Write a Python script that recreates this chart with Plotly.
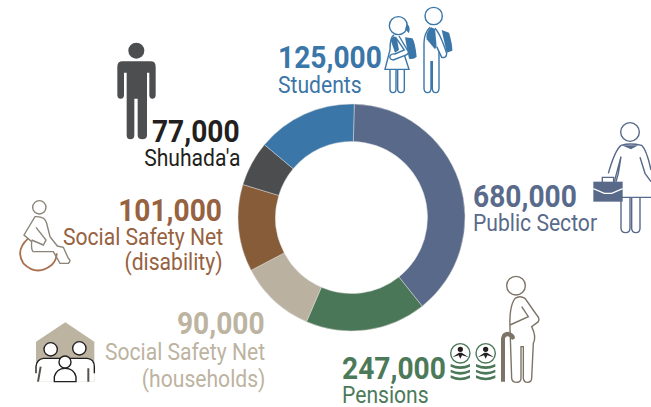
import re
import plotly.graph_objects as go

# The ring in the source is not proportional to the printed figures, so the
# slice shares (read from the ring's angles) are kept apart from the labels.
categories = ["Public Sector", "Pensions", "Social Safety Net (households)",
              "Social Safety Net (disability)", "Shuhada'a", "Students"]
slice_shares = [38.9, 17.2, 10.8, 12.4, 6.4, 14.3]
printed_values = ["680,000", "247,000", "90,000", "101,000", "77,000", "125,000"]
slice_colors = ["#58698a", "#4a7757", "#bbb1a0", "#875c39", "#4c4d4f", "#3a76a8"]

W, H = 651, 407
CX, CY, R = 351.5, 217.5, 113.5
FONT = "Roboto, sans-serif"
CONDENSE = 0.88

fig = go.Figure(go.Pie(
    labels=categories, values=slice_shares, hole=0.67, sort=False,
    direction="clockwise", rotation=1.4,
    marker=dict(colors=slice_colors, line=dict(color="#d8d8d8", width=0.5)),
    textinfo="none", hoverinfo="label+value", showlegend=False,
    domain=dict(x=[(CX - R) / W, (CX + R) / W], y=[1 - (CY + R) / H, 1 - (CY - R) / H]),
))

shapes = []
def scale(ox, oy, d):
    toks = re.findall(r"[A-Za-z]|-?\d+\.?\d*", d)
    out, i = [], 0
    for t in toks:
        if t.isalpha():
            out.append(t)
        else:
            out.append(f"{(ox if i % 2 == 0 else oy) + float(t) / 3:.2f}")
            i += 1
    return " ".join(out)

def path(ox, oy, d, fill="rgba(0,0,0,0)", line="rgba(0,0,0,0)", w=1.4):
    shapes.append(dict(type="path", xref="x", yref="y", path=scale(ox, oy, d),
                       fillcolor=fill, line=dict(color=line, width=w)))

def circle(ox, oy, x, y, r, fill="rgba(0,0,0,0)", line="rgba(0,0,0,0)", w=1.4):
    px, py, pr = ox + x / 3, oy + y / 3, r / 3
    shapes.append(dict(type="circle", xref="x", yref="y", x0=px - pr, x1=px + pr,
                       y0=py - pr, y1=py + pr, fillcolor=fill, line=dict(color=line, width=w)))

# Man (Shuhada'a)
c = "#4d4e50"
circle(0, 0, 409, 152, 24, fill=c)
path(0, 0, "M 352 200 Q 352 184 368 184 L 452 184 Q 467 184 467 200 L 467 285 Q 467 296 457 296 Q 448 296 448 285 L 448 218 L 441 218 L 441 405 Q 441 418 427 418 Q 413 418 413 405 L 413 296 L 403 296 L 403 405 Q 403 418 391 418 Q 380 418 380 405 L 380 218 L 372 218 L 372 285 Q 372 296 362 296 Q 352 296 352 285 Z", fill=c)

# Students
c = "#3a76a8"
circle(325, 0, 220, 77, 27, line=c)
path(325, 0, "M 245 72 Q 258 78 252 100 Q 245 92 240 88 Z", fill=c)
path(325, 0, "M 240 112 L 262 115 Q 270 125 275 170 Q 265 180 252 176 L 245 140 Z", fill=c)
path(325, 0, "M 207 105 Q 195 110 195 150 L 180 208 L 252 208 L 238 165 M 195 208 L 195 268 Q 195 278 204 278 Q 213 278 213 268 L 213 208 M 218 208 L 218 268 Q 218 278 228 278 Q 238 278 238 268 L 238 208", line=c)
path(325, 0, "M 197 120 Q 205 105 215 112 L 222 150 L 210 158 Z", fill=c)
path(325, 0, "M 222 108 L 250 155 Q 252 162 240 166 L 205 180 Q 192 178 195 168 Q 198 160 210 162 L 238 150 L 212 112", fill="#ffffff", line=c)
circle(325, 0, 326, 48, 26, line=c)
path(325, 0, "M 350 90 L 372 98 Q 382 130 382 152 L 365 158 Z", fill=c)
path(325, 0, "M 315 82 Q 297 100 297 130 L 297 265 Q 297 278 308 278 Q 318 278 318 265 L 318 185 L 322 185 L 322 265 Q 322 278 332 278 Q 342 278 342 265 L 342 150", line=c)
path(325, 0, "M 318 82 Q 300 100 305 118 L 330 148 L 340 130 L 332 88 Z", fill=c)
path(325, 0, "M 330 85 Q 345 100 365 160 Q 365 175 350 172 L 335 140", fill="#ffffff", line=c)

# Public sector employee
c = "#58698a"
circle(325, 0, 915, 396, 28, line=c)
path(325, 0, "M 888 436 Q 915 428 950 436 Q 965 450 978 510 M 888 436 Q 870 450 850 520 M 888 470 L 868 545 M 945 472 L 960 520 L 978 545 M 888 470 L 880 520 L 860 592 L 978 592 M 888 592 L 888 685 Q 888 698 902 698 Q 915 698 915 685 L 915 592 M 920 592 L 920 685 Q 920 698 933 698 Q 945 698 945 685 L 945 592", line=c)
path(325, 0, "M 890 436 L 940 436 L 918 448 Z", fill=c)
path(325, 0, "M 832 548 L 832 532 L 866 532 L 866 548", line=c)
path(325, 0, "M 805 545 L 893 545 L 893 605 L 805 605 Z", fill=c)
path(325, 0, "M 805 566 L 838 580 L 860 580 L 893 566", line="#ffffff", w=1.2)

# Wheelchair user
g, b = "#8a8577", "#a9704f"
path(0, 190, "M 85 145 Q 45 180 70 220 Q 110 260 155 225 Q 170 210 170 190", line=b, w=1.8)
circle(0, 190, 118, 52, 20, line=g)
path(0, 190, "M 105 80 Q 135 78 140 100 L 150 140 L 172 168 L 190 172 L 205 205 Q 215 212 205 220 L 180 220 L 160 185 L 100 185 Q 93 180 95 155 L 72 135 Z M 108 112 L 138 150 L 130 165 L 95 150", line=g)

# Household
t, k = "#bdb3a1", "#231f20"
path(0, 190, "M 108 455 L 196 397 L 283 455 L 283 575 L 108 575 Z", fill=t)
path(0, 190, "M 108 575 L 108 530 Q 110 508 130 505 L 262 505 Q 283 508 283 530 L 283 575 Z", fill="#ffffff")
path(0, 190, "M 108 550 L 108 530 Q 110 508 130 505 L 262 505 Q 283 508 283 530 L 283 550", line=k)
circle(0, 190, 152, 478, 20, fill="#ffffff", line=k)
circle(0, 190, 238, 475, 20, fill="#ffffff", line=k)
path(0, 190, "M 122 530 L 114 575 M 265 535 L 265 575", line="#55534e", w=2)
path(0, 190, "M 163 575 L 163 560 Q 170 535 195 535 Q 222 535 228 560 L 228 575 Z", fill="#ffffff", line=k)
circle(0, 190, 195, 516, 18, fill="#ffffff", line=k)

# Pensioner
g, c = "#7c7466", "#4a7757"
circle(325, 250, 573, 107, 28, line=g)
path(325, 250, "M 570 145 Q 552 170 555 235 L 560 385 Q 562 397 575 397 Q 588 397 588 385 L 588 290 L 595 290 L 595 385 Q 597 397 607 397 Q 620 397 620 385 L 625 280 Q 635 260 620 230 L 640 215 Q 645 205 635 195 L 600 145 Q 585 135 570 145 M 555 225 L 610 200 L 590 170", fill="#ffffff", line=g)
path(325, 250, "M 528 395 L 528 265 Q 530 245 550 245 Q 570 250 570 265 Q 560 275 555 262 Q 545 255 540 265 L 540 395 Z", fill=g)
for x in (406, 482):
    circle(325, 250, x, 310, 29, line=c)
    circle(325, 250, x, 298, 8, fill=k)
    path(325, 250, f"M {x - 24} 322 L {x - 4} 308 L {x + 4} 308 L {x + 25} 322 L {x + 5} 316 L {x} 326 L {x - 5} 316 Z", fill=k)
    for y in (342, 359, 376):
        path(325, 250, f"M {x - 29} {y} Q {x} {y + 14} {x + 29} {y} L {x + 29} {y + 8} Q {x} {y + 22} {x - 29} {y + 8} Z", fill=c)

def label(x, y, text, color, size, anchor, bold=False):
    fig.add_annotation(x=x, y=y, xref="x", yref="y", text=f"<b>{text}</b>" if bold else text,
                       showarrow=False, xanchor=anchor, yanchor="middle", borderpad=0, borderwidth=0,
                       font=dict(family=FONT, size=size, color=color))

text_colors = dict(zip(categories, ["#596a8a", "#4c7a59", "#bdb3a1", "#96623f", "#231f20", "#3a76a8"]))
name = categories
label(473, 196, printed_values[0], text_colors[name[0]], 32, "left", True)
label(473, 223, "Public Sector", text_colors[name[0]], 24, "left")
label(342, 368, printed_values[1], text_colors[name[1]], 32, "left", True)
label(342, 395, "Pensions", text_colors[name[1]], 24, "left")
label(265, 323, printed_values[2], text_colors[name[2]], 32, "right", True)
label(265, 352, "Social Safety Net", text_colors[name[2]], 24, "right")
label(265, 379, "(households)", text_colors[name[2]], 24, "right")
label(222, 210, printed_values[3], text_colors[name[3]], 32, "right", True)
label(223, 237, "Social Safety Net", text_colors[name[3]], 24, "right")
label(223, 262, "(disability)", text_colors[name[3]], 24, "right")
label(240, 131, printed_values[4], text_colors[name[4]], 32, "right", True)
label(240, 158, "Shuhada'a", text_colors[name[4]], 24, "right")
label(278, 57, printed_values[5], text_colors[name[5]], 32, "left", True)
label(278, 85, "Students", text_colors[name[5]], 24, "left")

fig.update_layout(
    width=W, height=H, margin=dict(l=0, r=0, t=0, b=0),
    paper_bgcolor="#ffffff", plot_bgcolor="rgba(0,0,0,0)", shapes=shapes,
    xaxis=dict(range=[0, W], visible=False, fixedrange=True),
    yaxis=dict(range=[H, 0], visible=False, fixedrange=True),
)
fig.add_trace(go.Scatter(x=[None], y=[None], showlegend=False, hoverinfo="skip"))

# The reference type is condensed; no condensed face is installed, so the page
# removes its body margin and narrows each label towards its anchored side.
post = """
document.body.style.margin = '0';
document.documentElement.style.overflow = 'hidden';
var gd = document.getElementById('{plot_id}');
gd.querySelectorAll('.annotation').forEach(function (a) {
  var i = +a.getAttribute('data-index');
  var b = a.querySelector('text.annotation-text').getBoundingClientRect();
  var ax = gd.layout.annotations[i].xanchor === 'right' ? b.right : b.left;
  a.setAttribute('transform', 'translate(' + ax + ',0) scale(%s,1) translate(' + (-ax) + ',0)');
});
""" % CONDENSE
fig.write_html("out.html", config=dict(displayModeBar=False), post_script=post)
